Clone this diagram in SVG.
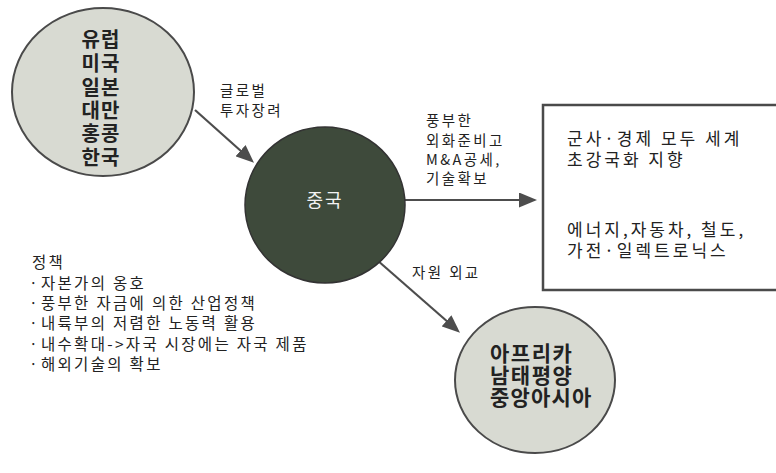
<svg xmlns="http://www.w3.org/2000/svg" width="776" height="473" viewBox="0 0 776 473">
<defs>
<style>
text{font-family:"Noto Sans CJK KR","Noto Sans",sans-serif;fill:#222}
.big{font-size:20px;font-weight:bold;letter-spacing:1px}
.lbl{font-size:14.5px;letter-spacing:2.4px}
.box{font-size:17px;letter-spacing:3px}
.pol{font-size:15.5px;letter-spacing:2.3px}
.light{fill:#d8dad2;stroke:#4a4a4a;stroke-width:2}
.conn{stroke:#4d4d4d;stroke-width:2.2;fill:none;marker-end:url(#ah)}
</style>
<marker id="ah" markerUnits="userSpaceOnUse" markerWidth="18" markerHeight="15" viewBox="0 0 18 15" refX="14" refY="7.5" orient="auto">
<path d="M0,0 L18,7.5 L0,15 z" fill="#4d4d4d"/>
</marker>
</defs>
<rect width="776" height="473" fill="#fff"/>

<g id="connectors">
<line class="conn" x1="195" y1="110" x2="251" y2="160"/>
<line class="conn" x1="405" y1="200" x2="533" y2="200"/>
<line class="conn" x1="377" y1="260" x2="457" y2="330"/>
</g>

<g id="node-origin">
<ellipse class="light" cx="103" cy="92" rx="91" ry="84"/>
<text class="big" x="101" y="47" text-anchor="middle">유럽</text>
<text class="big" x="101" y="71" text-anchor="middle">미국</text>
<text class="big" x="101" y="95" text-anchor="middle">일본</text>
<text class="big" x="101" y="118" text-anchor="middle">대만</text>
<text class="big" x="101" y="141" text-anchor="middle">홍콩</text>
<text class="big" x="101" y="165" text-anchor="middle">한국</text>
</g>

<g id="label-invest">
<text class="lbl" x="220" y="96">글로벌</text>
<text class="lbl" x="220" y="116">투자장려</text>
</g>

<g id="node-china">
<ellipse cx="325" cy="205" rx="80" ry="78" fill="#3e4a3b" stroke="#333" stroke-width="1.5"/>
<text x="325" y="207" text-anchor="middle" style="font-size:18px;letter-spacing:2px;fill:#f2f2f2">중국</text>
</g>

<g id="label-mna">
<text class="lbl" x="426" y="126">풍부한</text>
<text class="lbl" x="426" y="146">외화준비고</text>
<text class="lbl" x="426" y="165">M&amp;A공세,</text>
<text class="lbl" x="426" y="184">기술확보</text>
</g>

<g id="node-goal">
<rect x="543" y="105" width="250" height="185" fill="#fff" stroke="#4a4a4a" stroke-width="2.5"/>
<text class="box" x="567" y="145">군사·경제 모두 세계</text>
<text class="box" x="567" y="166">초강국화 지향</text>
<text class="box" x="567" y="236">에너지,자동차, 철도,</text>
<text class="box" x="567" y="257">가전·일렉트로닉스</text>
</g>

<g id="label-resource">
<text class="lbl" x="412" y="278">자원 외교</text>
</g>

<g id="node-resource">
<ellipse class="light" cx="535" cy="380" rx="80" ry="73"/>
<text class="big" x="490" y="361" style="font-size:21px;letter-spacing:1.5px">아프리카</text>
<text class="big" x="490" y="383" style="font-size:21px;letter-spacing:1.5px">남태평양</text>
<text class="big" x="490" y="405" style="font-size:21px;letter-spacing:1.2px">중앙아시아</text>
</g>

<g id="policy">
<text class="pol" x="32" y="268">정책</text>
<text class="pol" y="289"><tspan x="29">·</tspan><tspan x="41">자본가의 옹호</tspan></text>
<text class="pol" y="309"><tspan x="29">·</tspan><tspan x="41">풍부한 자금에 의한 산업정책</tspan></text>
<text class="pol" y="329"><tspan x="29">·</tspan><tspan x="41">내륙부의 저렴한 노동력 활용</tspan></text>
<text class="pol" y="350"><tspan x="29">·</tspan><tspan x="41">내수확대-&gt;자국 시장에는 자국 제품</tspan></text>
<text class="pol" y="370"><tspan x="29">·</tspan><tspan x="41">해외기술의 확보</tspan></text>
</g>
</svg>
